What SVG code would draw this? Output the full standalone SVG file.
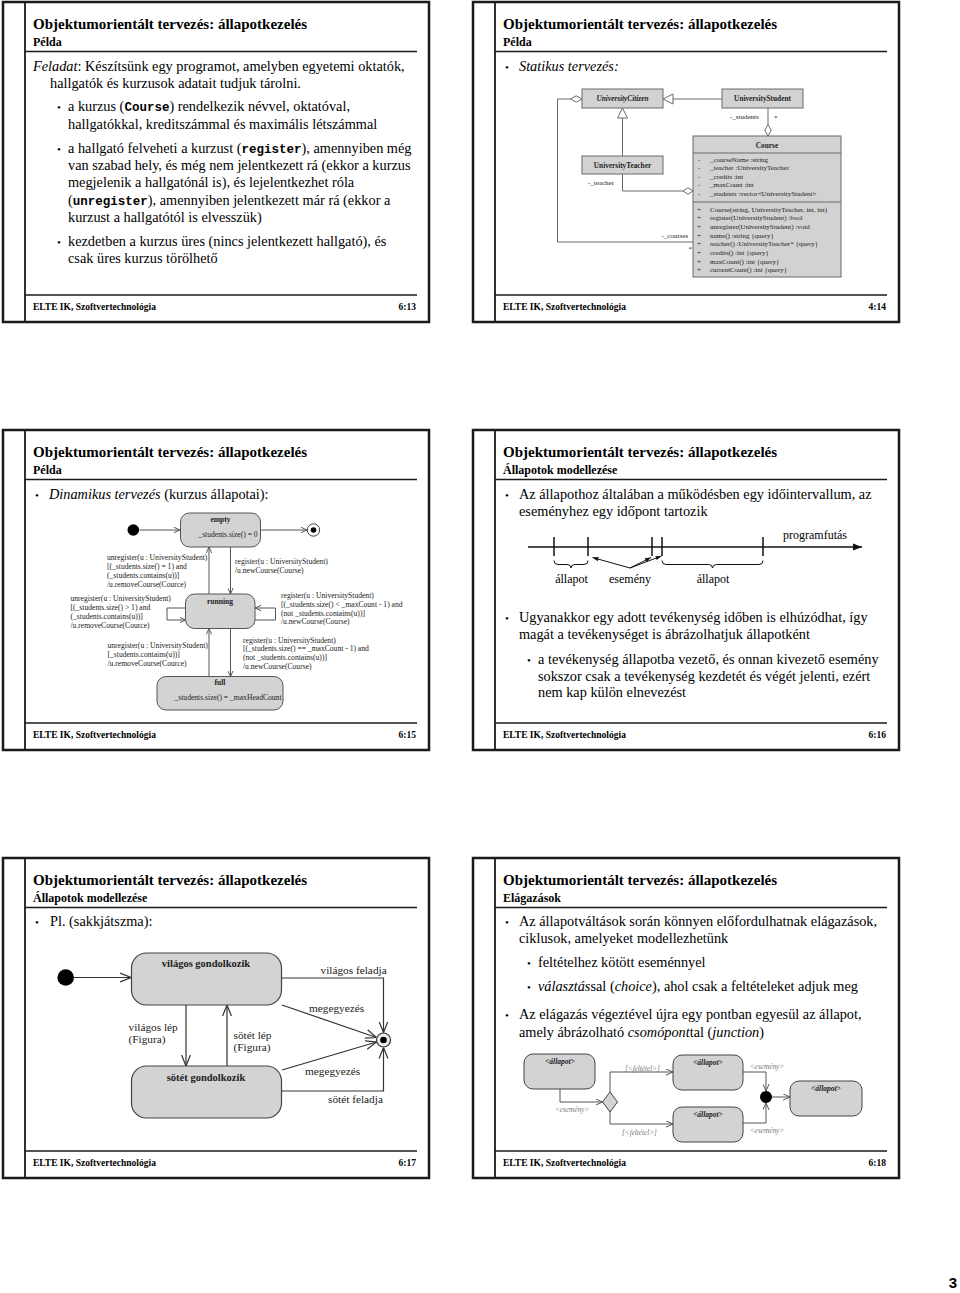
<svg xmlns="http://www.w3.org/2000/svg" width="960" height="1293" viewBox="0 0 960 1293">
<defs>
<style>
text{font-family:"Liberation Serif","Times New Roman",serif;fill:#000}
.fr{fill:none;stroke:#1a1a1a;stroke-width:2.5}
.rl{stroke:#1a1a1a;stroke-width:1.4;fill:none}
.rt{stroke:#1a1a1a;stroke-width:1.8;fill:none}
.t{font-size:15px;font-weight:bold}
.s{font-size:12px;font-weight:bold}
.b{font-size:14.3px}
.bu{font-size:11px}
.f{font-size:9.5px;font-weight:bold}
.e{text-anchor:end}
.c{text-anchor:middle}
.i{font-style:italic}
.m{font-family:"Liberation Mono","Courier New",monospace;font-weight:bold;font-size:12.5px}
.ubox{fill:#d2d2d2;stroke:#6a6a6a;stroke-width:1}
.ucn{fill:none;stroke:#6a6a6a;stroke-width:1}
.uh{fill:#fff;stroke:#6a6a6a;stroke-width:1}
.u{font-size:7px;fill:#222}
.ub{font-size:7.3px;font-weight:bold;text-anchor:middle;fill:#222}
.st{fill:#d3d3d3;stroke:#555;stroke-width:1}
.scn{fill:none;stroke:#555;stroke-width:1}
.sd{font-size:7.6px;fill:#222}
.sb{font-size:7.6px;font-weight:bold;text-anchor:middle;fill:#222}
.ch{fill:none;stroke:#333;stroke-width:1.2}
.cst{fill:#d3d3d3;stroke:#444;stroke-width:1.2}
.cl{font-size:11.3px;fill:#222}
.cb{font-size:10.5px;font-weight:bold;text-anchor:middle;fill:#222}
.tl{stroke:#111;stroke-width:1.5;fill:none}
.tn{stroke:#111;stroke-width:1;fill:none}
.tx{font-size:12px}
.jl{font-size:7.2px;font-style:italic;fill:#777}
.jb{font-size:7.5px;font-style:italic;font-weight:bold;text-anchor:middle;fill:#222}
.jst{fill:#d3d3d3;stroke:#444;stroke-width:1}
.jcn{fill:none;stroke:#555;stroke-width:1}
</style>
<marker id="as" viewBox="0 0 10 10" refX="10" refY="5" markerWidth="6" markerHeight="6" orient="auto" markerUnits="userSpaceOnUse"><path d="M0,0.5 L10,5 L0,9.5" fill="none" stroke="#555" stroke-width="1.6"/></marker>
<marker id="al" viewBox="0 0 10 10" refX="10" refY="5" markerWidth="11" markerHeight="11" orient="auto" markerUnits="userSpaceOnUse"><path d="M0,1 L10,5 L0,9" fill="none" stroke="#333" stroke-width="1.1"/></marker>
<marker id="am" viewBox="0 0 10 10" refX="10" refY="5" markerWidth="7" markerHeight="7" orient="auto" markerUnits="userSpaceOnUse"><path d="M0,0.5 L10,5 L0,9.5" fill="none" stroke="#555" stroke-width="1.4"/></marker>
<marker id="tf" viewBox="0 0 10 10" refX="10" refY="5" markerWidth="9" markerHeight="9" orient="auto" markerUnits="userSpaceOnUse"><path d="M0,1 L10,5 L0,9 z" fill="#111"/></marker>
<marker id="ts" viewBox="0 0 10 10" refX="10" refY="5" markerWidth="6" markerHeight="6" orient="auto" markerUnits="userSpaceOnUse"><path d="M0,1.5 L10,5 L0,8.5 z" fill="#111"/></marker>
</defs>
<rect width="960" height="1293" fill="#fff"/>

<!-- ===== Slide 1 ===== -->
<g id="slide1">
<rect class="fr" x="3" y="2" width="426" height="320"/>
<line class="rt" x1="25" y1="2" x2="25" y2="322"/>
<line class="rl" x1="25" y1="51.5" x2="417" y2="51.5"/>
<line class="rl" x1="25" y1="295" x2="417" y2="295"/>
<text class="t" x="33" y="28.5">Objektumorientált tervezés: állapotkezelés</text>
<text class="s" x="33" y="45.5">Példa</text>
<text class="b" x="33" y="71"><tspan class="i">Feladat</tspan>: Készítsünk egy programot, amelyben egyetemi oktatók,</text>
<text class="b" x="50" y="88">hallgatók és kurzusok adatait tudjuk tárolni.</text>
<text class="bu" x="57" y="111">•</text>
<text class="b" x="68" y="111">a kurzus (<tspan class="m">Course</tspan>) rendelkezik névvel, oktatóval,</text>
<text class="b" x="68" y="129">hallgatókkal, kreditszámmal és maximális létszámmal</text>
<text class="bu" x="57" y="153">•</text>
<text class="b" x="68" y="153">a hallgató felveheti a kurzust (<tspan class="m">register</tspan>), amennyiben még</text>
<text class="b" x="68" y="170">van szabad hely, és még nem jelentkezett rá (ekkor a kurzus</text>
<text class="b" x="68" y="187">megjelenik a hallgatónál is), és lejelentkezhet róla</text>
<text class="b" x="68" y="205">(<tspan class="m">unregister</tspan>), amennyiben jelentkezett már rá (ekkor a</text>
<text class="b" x="68" y="222">kurzust a hallgatótól is elvesszük)</text>
<text class="bu" x="57" y="246">•</text>
<text class="b" x="68" y="246">kezdetben a kurzus üres (nincs jelentkezett hallgató), és</text>
<text class="b" x="68" y="263">csak üres kurzus törölhető</text>
<text class="f" x="33" y="310">ELTE IK, Szoftvertechnológia</text>
<text class="f e" x="416" y="310">6:13</text>
</g>

<!-- ===== Slide 2 ===== -->
<g id="slide2">
<rect class="fr" x="473" y="2" width="426" height="320"/>
<line class="rt" x1="495" y1="2" x2="495" y2="322"/>
<line class="rl" x1="495" y1="51.5" x2="887" y2="51.5"/>
<line class="rl" x1="495" y1="295" x2="887" y2="295"/>
<text class="t" x="503" y="28.5">Objektumorientált tervezés: állapotkezelés</text>
<text class="s" x="503" y="45.5">Példa</text>
<text class="bu" x="505" y="71">•</text>
<text class="b i" x="519" y="71">Statikus tervezés:</text>
<text class="f" x="503" y="310">ELTE IK, Szoftvertechnológia</text>
<text class="f e" x="886" y="310">4:14</text>
</g>
<g id="uml-connectors">
<line class="ucn" x1="722" y1="99" x2="673" y2="99"/>
<polygon class="uh" points="663,99 673,94 673,104"/>
<line class="ucn" x1="622.5" y1="156" x2="622.5" y2="118"/>
<polygon class="uh" points="622.5,108 617.5,118 627.5,118"/>
<line class="ucn" x1="768" y1="108" x2="768" y2="124.5"/>
<polygon class="uh" points="768,124.5 771.2,130.2 768,136 764.8,130.2"/>
<path class="ucn" d="M622.5,174 V191 H683"/>
<polygon class="uh" points="683,191 688,187.8 693,191 688,194.2"/>
<path class="ucn" d="M693,242 H557.5 V99 H570.5"/>
<polygon class="uh" points="570.5,99 576.2,95.8 582,99 576.2,102.2"/>
<text class="u" x="730" y="118.5">-_students</text>
<text class="u" x="774" y="119.5">*</text>
<text class="u" x="588" y="184.5">-_teacher</text>
<text class="u" x="661.5" y="237.5">-_courses</text>
<text class="u" x="688.5" y="251">*</text>
</g>
<g id="uml-citizen">
<rect class="ubox" x="582" y="89" width="81" height="19"/>
<text class="ub i" x="622.5" y="101.3">UniversityCitizen</text>
</g>
<g id="uml-student">
<rect class="ubox" x="722" y="89" width="81" height="19"/>
<text class="ub" x="762.5" y="101.3">UniversityStudent</text>
</g>
<g id="uml-teacher">
<rect class="ubox" x="582" y="156" width="81" height="18"/>
<text class="ub" x="622.5" y="167.8">UniversityTeacher</text>
</g>
<g id="uml-course">
<rect class="ubox" x="693" y="136" width="148" height="141"/>
<line class="ucn" x1="693" y1="153" x2="841" y2="153"/>
<line class="ucn" x1="693" y1="202" x2="841" y2="202"/>
<text class="ub" x="767" y="147.5">Course</text>
<text class="u" x="698" y="161.5">-</text><text class="u" x="710" y="161.5">_courseName :string</text>
<text class="u" x="698" y="170.1">-</text><text class="u" x="710" y="170.1">_teacher :UniversityTeacher</text>
<text class="u" x="698" y="178.7">-</text><text class="u" x="710" y="178.7">_credits :int</text>
<text class="u" x="698" y="187.3">-</text><text class="u" x="710" y="187.3">_maxCount :int</text>
<text class="u" x="698" y="195.9">-</text><text class="u" x="710" y="195.9">_students :vector&lt;UniversityStudent&gt;</text>
<text class="u" x="697" y="211.5">+</text><text class="u" x="710" y="211.5">Course(string, UniversityTeacher, int, int)</text>
<text class="u" x="697" y="220.2">+</text><text class="u" x="710" y="220.2">register(UniversityStudent) :bool</text>
<text class="u" x="697" y="228.9">+</text><text class="u" x="710" y="228.9">unregister(UniversityStudent) :void</text>
<text class="u" x="697" y="237.6">+</text><text class="u" x="710" y="237.6">name() :string {query}</text>
<text class="u" x="697" y="246.3">+</text><text class="u" x="710" y="246.3">teacher() :UniversityTeacher* {query}</text>
<text class="u" x="697" y="255">+</text><text class="u" x="710" y="255">credits() :int {query}</text>
<text class="u" x="697" y="263.7">+</text><text class="u" x="710" y="263.7">maxCount() :int {query}</text>
<text class="u" x="697" y="272.4">+</text><text class="u" x="710" y="272.4">currentCount() :int {query}</text>
</g>

<!-- ===== Slide 3 ===== -->
<g id="slide3">
<rect class="fr" x="3" y="430" width="426" height="320"/>
<line class="rt" x1="25" y1="430" x2="25" y2="750"/>
<line class="rl" x1="25" y1="479.5" x2="417" y2="479.5"/>
<line class="rl" x1="25" y1="723" x2="417" y2="723"/>
<text class="t" x="33" y="456.5">Objektumorientált tervezés: állapotkezelés</text>
<text class="s" x="33" y="473.5">Példa</text>
<text class="bu" x="35" y="498.5">•</text>
<text class="b" x="49" y="498.5"><tspan class="i">Dinamikus tervezés</tspan> (kurzus állapotai):</text>
<text class="f" x="33" y="738">ELTE IK, Szoftvertechnológia</text>
<text class="f e" x="416" y="738">6:15</text>
</g>
<g id="s3-connectors">
<path class="scn" d="M139.5,530 H180" marker-end="url(#as)"/>
<path class="scn" d="M261,530 H307" marker-end="url(#as)"/>
<path class="scn" d="M230.5,547 V594" marker-end="url(#as)"/>
<path class="scn" d="M209,594 V547" marker-end="url(#as)"/>
<path class="scn" d="M230.5,628.5 V676.5" marker-end="url(#as)"/>
<path class="scn" d="M209,676.5 V628.5" marker-end="url(#as)"/>
<path class="scn" d="M185.5,608 H167 V620 H185.5" marker-end="url(#as)"/>
<path class="scn" d="M255,620 H275.5 V608 H255" marker-end="url(#as)"/>
<text class="sd" x="107" y="559.5">unregister(u : UniversityStudent)</text>
<text class="sd" x="107" y="568.5">[(_students.size() = 1) and</text>
<text class="sd" x="107" y="578">(_students.contains(u))]</text>
<text class="sd" x="107" y="586.5">/u.removeCourse(Cource)</text>
<text class="sd" x="235" y="564">register(u : UniversityStudent)</text>
<text class="sd" x="235" y="573">/u.newCourse(Course)</text>
<text class="sd" x="70.5" y="601">unregister(u : UniversityStudent)</text>
<text class="sd" x="70.5" y="610">[(_students.size() &gt; 1) and</text>
<text class="sd" x="70.5" y="619">(_students.contains(u))]</text>
<text class="sd" x="70.5" y="627.5">/u.removeCourse(Cource)</text>
<text class="sd" x="281" y="597.5">register(u : UniversityStudent)</text>
<text class="sd" x="281" y="606.5">[(_students.size() &lt; _maxCount - 1) and</text>
<text class="sd" x="281" y="615.5">(not _students.contains(u))]</text>
<text class="sd" x="281" y="624">/u.newCourse(Course)</text>
<text class="sd" x="107.5" y="647.5">unregister(u : UniversityStudent)</text>
<text class="sd" x="107.5" y="656.5">[_students.contains(u))]</text>
<text class="sd" x="107.5" y="665.5">/u.removeCourse(Cource)</text>
<text class="sd" x="243" y="642.5">register(u : UniversityStudent)</text>
<text class="sd" x="243" y="651">[(_students.size() == _maxCount - 1) and</text>
<text class="sd" x="243" y="660">(not _students.contains(u))]</text>
<text class="sd" x="243" y="668.5">/u.newCourse(Course)</text>
</g>
<g id="s3-initial"><circle cx="133.3" cy="530" r="5.8" fill="#000"/></g>
<g id="s3-empty">
<rect class="st" x="180.5" y="513" width="80" height="34" rx="9"/>
<text class="sb" x="220.5" y="521.5">empty</text>
<text class="sd c" x="228" y="537">_students.size() = 0</text>
</g>
<g id="s3-final">
<circle cx="313.5" cy="530" r="6.2" fill="#fff" stroke="#444" stroke-width="1"/>
<circle cx="313.5" cy="530" r="2.8" fill="#000"/>
</g>
<g id="s3-running">
<rect class="st" x="185.5" y="594" width="69.5" height="34.5" rx="9"/>
<text class="sb" x="220" y="604">running</text>
</g>
<g id="s3-full">
<rect class="st" x="157" y="676.5" width="126" height="33.5" rx="9"/>
<text class="sb" x="220" y="685">full</text>
<text class="sd c" x="228" y="700">_students.size() = _maxHeadCount</text>
</g>

<!-- ===== Slide 4 ===== -->
<g id="slide4">
<rect class="fr" x="473" y="430" width="426" height="320"/>
<line class="rt" x1="495" y1="430" x2="495" y2="750"/>
<line class="rl" x1="495" y1="479.5" x2="887" y2="479.5"/>
<line class="rl" x1="495" y1="723" x2="887" y2="723"/>
<text class="t" x="503" y="456.5">Objektumorientált tervezés: állapotkezelés</text>
<text class="s" x="503" y="473.5">Állapotok modellezése</text>
<text class="bu" x="505" y="499">•</text>
<text class="b" x="519" y="499">Az állapothoz általában a működésben egy időintervallum, az</text>
<text class="b" x="519" y="516">eseményhez egy időpont tartozik</text>
<text class="bu" x="505" y="622">•</text>
<text class="b" x="519" y="622">Ugyanakkor egy adott tevékenység időben is elhúzódhat, így</text>
<text class="b" x="519" y="639">magát a tevékenységet is ábrázolhatjuk állapotként</text>
<text class="bu" x="527" y="664">•</text>
<text class="b" x="538" y="664">a tevékenység állapotba vezető, és onnan kivezető esemény</text>
<text class="b" x="538" y="681">sokszor csak a tevékenység kezdetét és végét jelenti, ezért</text>
<text class="b" x="538" y="697">nem kap külön elnevezést</text>
<text class="f" x="503" y="738">ELTE IK, Szoftvertechnológia</text>
<text class="f e" x="886" y="738">6:16</text>
</g>
<g id="timeline">
<path class="tl" d="M528,547 H862" marker-end="url(#tf)"/>
<path class="tl" d="M554,537 V556 M588,537 V556 M652,537 V556 M662,537 V556 M763,537 V556"/>
<path class="tn" d="M554,560.5 Q554,564.5 558,564.5 L567,564.5 Q571,564.5 571,568 Q571,564.5 575,564.5 L584,564.5 Q588,564.5 588,560.5"/>
<path class="tn" d="M662,560.5 Q662,564.5 666,564.5 L708.5,564.5 Q712.5,564.5 712.5,568 Q712.5,564.5 716.5,564.5 L759,564.5 Q763,564.5 763,560.5"/>
<path class="tn" d="M630,568 L592.5,557.5" marker-end="url(#ts)"/>
<path class="tn" d="M630,568 L651,557.5" marker-end="url(#ts)"/>
<path class="tn" d="M630,568 L661.5,556" marker-end="url(#ts)"/>
<text class="tx" x="783" y="539">programfutás</text>
<text class="tx c" x="571.5" y="582.5">állapot</text>
<text class="tx c" x="630" y="582.5">esemény</text>
<text class="tx c" x="713" y="582.5">állapot</text>
</g>

<!-- ===== Slide 5 ===== -->
<g id="slide5">
<rect class="fr" x="3" y="858" width="426" height="320"/>
<line class="rt" x1="25" y1="858" x2="25" y2="1178"/>
<line class="rl" x1="25" y1="907.5" x2="417" y2="907.5"/>
<line class="rl" x1="25" y1="1151" x2="417" y2="1151"/>
<text class="t" x="33" y="884.5">Objektumorientált tervezés: állapotkezelés</text>
<text class="s" x="33" y="901.5">Állapotok modellezése</text>
<text class="bu" x="35" y="926">•</text>
<text class="b" x="50" y="926">Pl. (sakkjátszma):</text>
<text class="f" x="33" y="1166">ELTE IK, Szoftvertechnológia</text>
<text class="f e" x="416" y="1166">6:17</text>
</g>
<g id="chess-connectors">
<path class="ch" d="M74,977.5 H131" marker-end="url(#al)"/>
<path class="ch" d="M186,1005 V1066" marker-end="url(#al)"/>
<path class="ch" d="M227,1066 V1005" marker-end="url(#al)"/>
<path class="ch" d="M281.5,978 H383.5 V1032.5" marker-end="url(#al)"/>
<path class="ch" d="M281.5,1091 H383.5 V1047.5" marker-end="url(#al)"/>
<path class="ch" d="M282,1005 L376.5,1037.5" marker-end="url(#al)"/>
<path class="ch" d="M282,1070 L376.5,1042" marker-end="url(#al)"/>
<text class="cl" x="320.5" y="974">világos feladja</text>
<text class="cl" x="309" y="1012">megegyezés</text>
<text class="cl" x="128.5" y="1031">világos lép</text>
<text class="cl" x="128.5" y="1042.5">(Figura)</text>
<text class="cl" x="233.5" y="1039">sötét lép</text>
<text class="cl" x="233.5" y="1050.5">(Figura)</text>
<text class="cl" x="305" y="1074.5">megegyezés</text>
<text class="cl" x="328" y="1103">sötét feladja</text>
</g>
<g id="chess-initial"><circle cx="65.7" cy="977.5" r="8.3" fill="#000"/></g>
<g id="chess-light">
<rect class="cst" x="131.5" y="953" width="150" height="52" rx="15"/>
<text class="cb" x="206" y="966.5">világos gondolkozik</text>
</g>
<g id="chess-dark">
<rect class="cst" x="131.5" y="1066" width="150" height="52" rx="15"/>
<text class="cb" x="206" y="1080.5">sötét gondolkozik</text>
</g>
<g id="chess-final">
<circle cx="383.5" cy="1040" r="7" fill="#eee" stroke="#333" stroke-width="1.2"/>
<circle cx="383.5" cy="1040" r="3.3" fill="#000"/>
</g>

<!-- ===== Slide 6 ===== -->
<g id="slide6">
<rect class="fr" x="473" y="858" width="426" height="320"/>
<line class="rt" x1="495" y1="858" x2="495" y2="1178"/>
<line class="rl" x1="495" y1="907.5" x2="887" y2="907.5"/>
<line class="rl" x1="495" y1="1151" x2="887" y2="1151"/>
<text class="t" x="503" y="884.5">Objektumorientált tervezés: állapotkezelés</text>
<text class="s" x="503" y="901.5">Elágazások</text>
<text class="bu" x="505" y="926">•</text>
<text class="b" x="519" y="926">Az állapotváltások során könnyen előfordulhatnak elágazások,</text>
<text class="b" x="519" y="943">ciklusok, amelyeket modellezhetünk</text>
<text class="bu" x="527" y="967">•</text>
<text class="b" x="538" y="967">feltételhez kötött eseménnyel</text>
<text class="bu" x="527" y="991">•</text>
<text class="b" x="538" y="991"><tspan class="i">választás</tspan>sal (<tspan class="i">choice</tspan>), ahol csak a feltételeket adjuk meg</text>
<text class="bu" x="505" y="1019">•</text>
<text class="b" x="519" y="1019">Az elágazás végeztével újra egy pontban egyesül az állapot,</text>
<text class="b" x="519" y="1037">amely ábrázolható <tspan class="i">csomópont</tspan>tal (<tspan class="i">junction</tspan>)</text>
<text class="f" x="503" y="1166">ELTE IK, Szoftvertechnológia</text>
<text class="f e" x="886" y="1166">6:18</text>
</g>
<g id="junction-connectors">
<path class="jcn" d="M560,1089 V1102 H602.5" marker-end="url(#am)"/>
<path class="jcn" d="M610,1092 V1072 H673" marker-end="url(#am)"/>
<path class="jcn" d="M610,1112 V1124 H673" marker-end="url(#am)"/>
<path class="jcn" d="M743,1072 H766 V1091" marker-end="url(#am)"/>
<path class="jcn" d="M743,1123 H766 V1103" marker-end="url(#am)"/>
<path class="jcn" d="M772,1097 H790" marker-end="url(#am)"/>
<text class="jl c" x="572" y="1111.5">&lt;esemény&gt;</text>
<text class="jl" x="625" y="1070.5">[&lt;feltétel&gt;]</text>
<text class="jl" x="622" y="1134.5">[&lt;feltétel&gt;]</text>
<text class="jl c" x="767" y="1068.5">&lt;esemény&gt;</text>
<text class="jl c" x="767" y="1132.5">&lt;esemény&gt;</text>
</g>
<g id="j-state-a">
<rect class="jst" x="524" y="1054" width="71" height="35" rx="9"/>
<text class="jb" x="560" y="1063.5">&lt;állapot&gt;</text>
</g>
<g id="j-state-b">
<rect class="jst" x="673" y="1055" width="70" height="35" rx="9"/>
<text class="jb" x="708" y="1064.5">&lt;állapot&gt;</text>
</g>
<g id="j-state-c">
<rect class="jst" x="673" y="1107" width="70" height="35" rx="9"/>
<text class="jb" x="708" y="1116.5">&lt;állapot&gt;</text>
</g>
<g id="j-state-d">
<rect class="jst" x="790" y="1081" width="72" height="35" rx="9"/>
<text class="jb" x="826" y="1090.5">&lt;állapot&gt;</text>
</g>
<g id="j-choice"><polygon class="jst" points="610,1092 617.5,1102 610,1112 602.5,1102"/></g>
<g id="j-junction"><circle cx="766" cy="1097" r="6" fill="#000"/></g>

<text x="957" y="1288" text-anchor="end" style="font-family:'Liberation Sans',Arial,sans-serif;font-weight:bold;font-size:15px">3</text>
</svg>
